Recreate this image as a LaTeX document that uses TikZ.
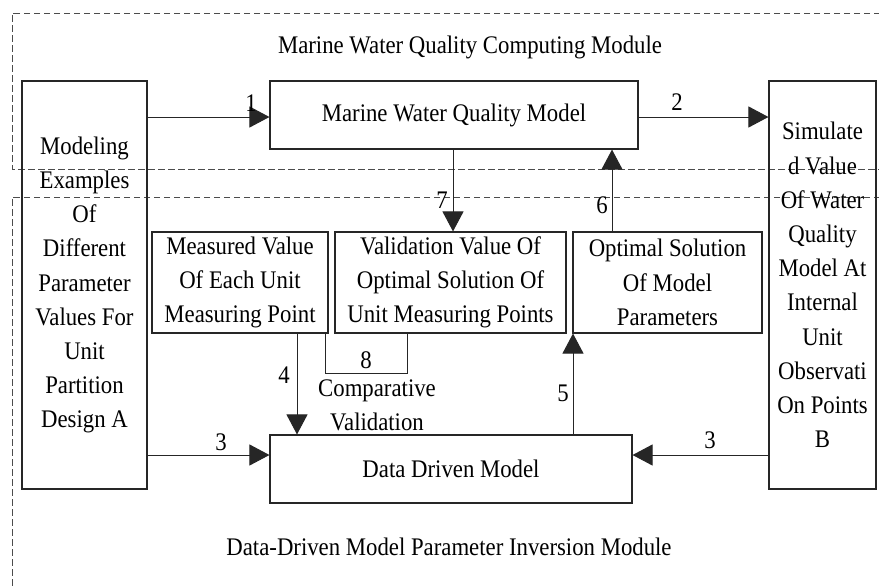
\documentclass[tikz,border=0pt]{standalone}
\usepackage{fontspec}
\setmainfont{Liberation Serif}[FakeStretch=0.9]
\usetikzlibrary{arrows.meta}
\begin{document}
\begin{tikzpicture}[x=1pt,y=-1pt,
  box/.style={draw=black!85,line width=1.1pt,rectangle,inner sep=0pt,align=center,
    font=\fontsize{25.3}{34.2}\selectfont},
  lbl/.style={inner sep=0pt,font=\fontsize{25.3}{34.2}\selectfont,align=center},
  arr/.style={draw=black!85,line width=1pt,-{Triangle[length=20pt,width=21pt]}},
  ln/.style={draw=black!85,line width=1pt},
  dsh/.style={draw=black!70,line width=1pt,dash pattern=on 6.5pt off 3.5pt}]
\useasboundingbox (0,0) rectangle (879,587);
% dashed module frames
\draw[dsh] (880,13) -- (12,13) -- (12,169) -- (880,169);
\draw[dsh] (880,197) -- (12,197) -- (12,590);
% titles
\node[lbl] (t1) at (470,47) {Marine Water Quality Computing Module};
\node[lbl] (t2) at (449,547) {Data-Driven Model Parameter Inversion Module};
% boxes
\node[box,minimum width=125pt,minimum height=408pt] (A) at (84.5,285)
  {Modeling\\Examples\\Of\\Different\\Parameter\\Values For\\Unit\\Partition\\Design A};
\node[box,minimum width=107pt,minimum height=408pt] (B) at (822.5,285)
  {Simulate\\d Value\\Of Water\\Quality\\Model At\\Internal\\Unit\\Observati\\On Points\\B};
\node[box,minimum width=368pt,minimum height=68pt] (mwqm) at (454,115) {Marine Water Quality Model};
\node[box,minimum width=176pt,minimum height=101pt] (meas) at (240,282.5)
  {Measured Value\\Of Each Unit\\Measuring Point};
\node[box,minimum width=231pt,minimum height=101pt] (val) at (450.5,282.5)
  {Validation Value Of\\Optimal Solution Of\\Unit Measuring Points};
\node[box,minimum width=189pt,minimum height=101pt] (opt) at (667.5,282.5)
  {Optimal Solution\\Of Model\\Parameters};
\node[box,minimum width=362pt,minimum height=68pt] (ddm) at (451,469) {Data Driven Model};
% helper coordinates
\coordinate (y1) at (0,117);
\coordinate (y3) at (0,455);
\coordinate (x7) at (453,0);
\coordinate (x6) at (612,0);
\coordinate (x4) at (297,0);
\coordinate (x5) at (573,0);
\coordinate (x8a) at (325,0);
\coordinate (x8b) at (407,0);
\coordinate (y8) at (0,373);
% connectors
\draw[arr] (A.east |- y1) -- (mwqm.west |- y1);
\draw[arr] (mwqm.east |- y1) -- (B.west |- y1);
\draw[arr] (mwqm.south -| x7) -- (val.north -| x7);
\draw[arr] (opt.north -| x6) -- (mwqm.south -| x6);
\draw[arr] (meas.south -| x4) -- (ddm.north -| x4);
\draw[arr] (ddm.north -| x5) -- (opt.south -| x5);
\draw[arr] (A.east |- y3) -- (ddm.west |- y3);
\draw[arr] (B.west |- y3) -- (ddm.east |- y3);
\draw[ln] (meas.south -| x8a) -- (x8a |- y8) -- (x8b |- y8) -- (val.south -| x8b);
% labels
\node[lbl] (l1) at (251,103) {1};
\node[lbl] (l2) at (677,102) {2};
\node[lbl] (l7) at (442,200) {7};
\node[lbl] (l6) at (602,205) {6};
\node[lbl] (l4) at (284,375) {4};
\node[lbl] (l8) at (366,360) {8};
\node[lbl] (lc) at (377,405) {Comparative\\Validation};
\node[lbl] (l5) at (563,393) {5};
\node[lbl] (l3a) at (221,442) {3};
\node[lbl] (l3b) at (710,440) {3};
\end{tikzpicture}
\end{document}
